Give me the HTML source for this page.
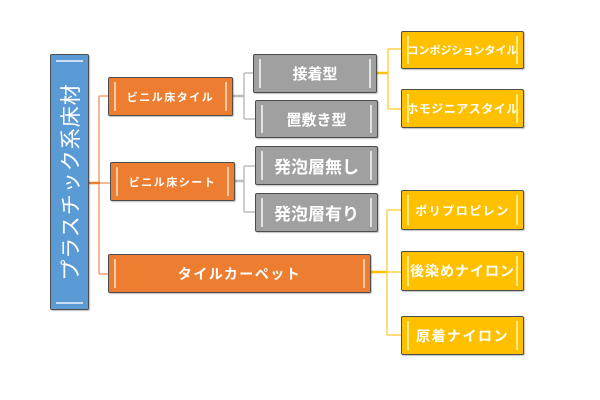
<!DOCTYPE html>
<html><head><meta charset="utf-8"><style>
html,body{margin:0;padding:0;background:#fff;}
body{width:600px;height:400px;position:relative;overflow:hidden;font-family:"Liberation Sans","Noto Sans CJK JP",sans-serif;}
.b{position:absolute;box-sizing:border-box;border:1.5px solid #4d4d4d;border-radius:2px;box-shadow:1px 1px 1px rgba(0,0,0,0.25);color:#fff;display:flex;align-items:center;justify-content:center;white-space:nowrap;}
.b::before,.b::after{content:"";position:absolute;top:4px;bottom:4px;width:2px;}
.b::before{left:5px;}
.b::after{right:5px;}
.o{background:#ED7D31;}
.o::before,.o::after{background:#F8C9A6;}
.g{background:#A0A0A0;}
.g::before,.g::after{background:#E2E2E2;}
.y{background:#FFC000;}
.y::before,.y::after{background:#FFEB80;}
.bl{background:#5B9BD5;}
.bl::before,.bl::after{top:auto;bottom:auto;left:5px;right:5px;width:auto;height:2px;}
.bl::before{top:5px;}
.bl::after{bottom:5px;}
.bl::before,.bl::after{background:#C9DEF2;}
svg{position:absolute;left:0;top:0;}
</style></head><body>
<svg width="600" height="400">
<g stroke="#F0A070" stroke-width="1.5" fill="none">
<line x1="99" y1="96" x2="99" y2="274"/>
<line x1="99" y1="96" x2="108" y2="96"/>
<line x1="99" y1="274" x2="108" y2="274"/>
<line x1="99" y1="183" x2="110" y2="183"/>
</g>
<line x1="89" y1="183" x2="100" y2="183" stroke="#ED7D31" stroke-width="2.5"/>
<g stroke="#BDBDBD" stroke-width="1.5" fill="none">
<line x1="233" y1="96" x2="244" y2="96" stroke-width="2.5"/>
<line x1="244" y1="73" x2="244" y2="119"/>
<line x1="244" y1="73" x2="253" y2="73"/>
<line x1="244" y1="119" x2="255" y2="119"/>
<line x1="235" y1="181" x2="244" y2="181" stroke-width="2.5"/>
<line x1="244" y1="166" x2="244" y2="212"/>
<line x1="244" y1="166" x2="255" y2="166"/>
<line x1="244" y1="212" x2="255" y2="212"/>
</g>
<g stroke="#FFD24D" stroke-width="1.5" fill="none">
<line x1="377" y1="73" x2="388" y2="73" stroke="#FFC000" stroke-width="2.5"/>
<line x1="388" y1="49" x2="388" y2="109"/>
<line x1="388" y1="49" x2="401" y2="49"/>
<line x1="388" y1="109" x2="401" y2="109"/>
<line x1="371" y1="272" x2="388" y2="272" stroke="#FFC000" stroke-width="2.5"/>
<line x1="387" y1="210" x2="387" y2="335"/>
<line x1="387" y1="210" x2="401" y2="210"/>
<line x1="387" y1="272" x2="401" y2="272"/>
<line x1="387" y1="335" x2="401" y2="335"/>
</g>
</svg>

<div class="b bl" style="left:50px;top:54px;width:39px;height:256px;"><span style="display:inline-block;transform:rotate(-90deg);font-size:21px;letter-spacing:1px;">プラスチック系床材</span></div>

<div class="b o" style="left:108px;top:77px;width:125px;height:39px;font-size:11px;font-weight:bold;letter-spacing:1.5px;">ビニル床タイル</div>
<div class="b o" style="left:110px;top:162px;width:125px;height:39px;font-size:11px;font-weight:bold;letter-spacing:1.5px;">ビニル床シート</div>
<div class="b o" style="left:108px;top:254px;width:263px;height:39px;font-size:14px;font-weight:bold;letter-spacing:1.5px;">タイルカーペット</div>

<div class="b g" style="left:253px;top:54px;width:124px;height:39px;font-size:15px;font-weight:bold;">接着型</div>
<div class="b g" style="left:255px;top:100px;width:123px;height:38px;font-size:15px;font-weight:bold;">置敷き型</div>
<div class="b g" style="left:255px;top:146px;width:123px;height:39px;font-size:17px;font-weight:bold;">発泡層無し</div>
<div class="b g" style="left:255px;top:193px;width:123px;height:39px;font-size:17px;font-weight:bold;">発泡層有り</div>

<div class="b y" style="left:401px;top:31px;width:123px;height:38px;font-size:11px;font-weight:bold;">コンポジションタイル</div>
<div class="b y" style="left:401px;top:89px;width:123px;height:39px;font-size:12px;font-weight:bold;letter-spacing:0.5px;">ホモジニアスタイル</div>
<div class="b y" style="left:401px;top:190px;width:123px;height:40px;font-size:12px;font-weight:bold;letter-spacing:1.5px;">ポリプロピレン</div>
<div class="b y" style="left:401px;top:251px;width:123px;height:40px;font-size:14px;font-weight:bold;letter-spacing:1px;">後染めナイロン</div>
<div class="b y" style="left:401px;top:316px;width:123px;height:39px;font-size:14px;font-weight:bold;letter-spacing:1.5px;">原着ナイロン</div>
</body></html>
